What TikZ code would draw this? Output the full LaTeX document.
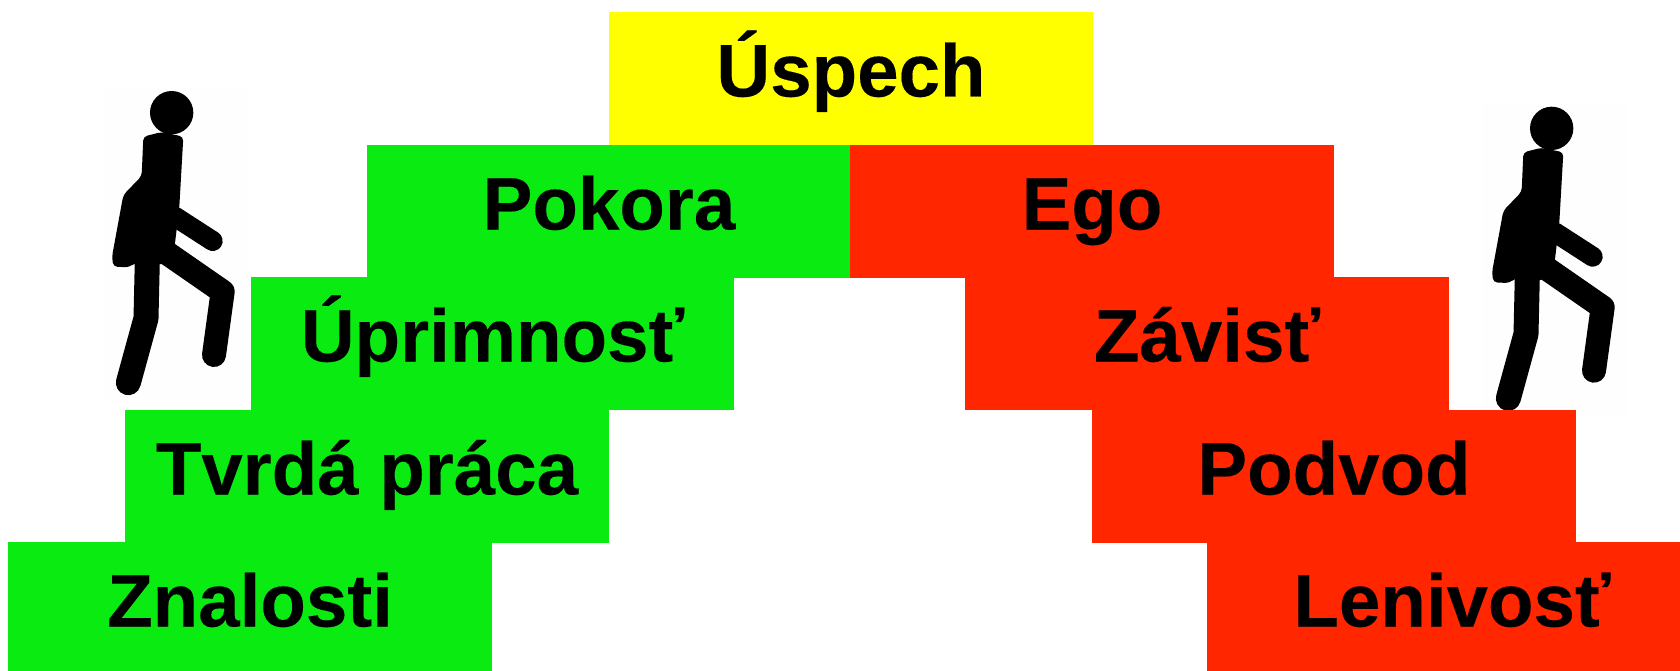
\documentclass[tikz,border=0pt]{standalone}
\usepackage{fontspec}
\setmainfont{Liberation Sans}
\definecolor{stairgreen}{RGB}{10,235,18}
\definecolor{stairred}{RGB}{255,38,0}
\definecolor{stairyellow}{RGB}{255,255,0}
\definecolor{walkerhaze}{RGB}{254,254,254}
\tikzset{
  stair/.style={rectangle,anchor=north west,inner sep=0pt,outer sep=0pt,
    minimum height=133pt,minimum width=484pt,
    text height=52pt,text depth=16pt,
    font=\fontsize{74.5}{80}\selectfont\bfseries\addfontfeature{FakeBold=0.2},text=black},
  goodstair/.style={stair,fill=stairgreen},
  badstair/.style={stair,fill=stairred},
  topstair/.style={stair,fill=stairyellow},
  walker/.pic={
    \begin{scope}[x=0.33333pt,y=-0.33333pt,black,line cap=round,line join=round]
      \fill[walkerhaze] (40,50) rectangle (470,990);
      \fill (245,128) circle (65);
      \fill[rounded corners=4pt] (160,200) -- (215,186) -- (280,200) -- (268,410) -- (252,545) -- (215,585) -- (135,578) -- (118,592) -- (70,590) -- (66,560) -- (100,375) -- (155,318) -- cycle;
      \draw[line width=20pt] (255,440) -- (368,513);
      \draw[line width=24pt] (232,550) -- (398,665) -- (372,855);
      \draw[line width=25pt] (172,570) -- (168,745) -- (115,938);
    \end{scope}
  }
}
\begin{document}
\begin{tikzpicture}[x=1pt,y=-1pt]
  \useasboundingbox[fill=white] (0,0) rectangle (1680,671);
  \pic at (90,70) {walker};
  \pic at (1470,85.7) {walker};
  \node[topstair] (uspech) at (609,12) {Úspech};
  \node[goodstair] (pokora) at (367,145) {Pokora};
  \node[badstair] (ego) at (850,145) {Ego};
  \node[goodstair,minimum width=483pt] (uprimnost) at (251,277) {Úprimnosť};
  \node[badstair] (zavist) at (965,277) {Závisť};
  \node[goodstair] (tvrda) at (125,410) {Tvrdá práca};
  \node[badstair] (podvod) at (1092,410) {Podvod};
  \node[goodstair,minimum height=129pt,text depth=12pt] (znalosti) at (8,542) {Znalosti};
  \node[badstair,minimum height=129pt,minimum width=473pt,text depth=12pt] (lenivost) at (1207,542) {\hspace*{17pt}Lenivosť};
\end{tikzpicture}
\end{document}
